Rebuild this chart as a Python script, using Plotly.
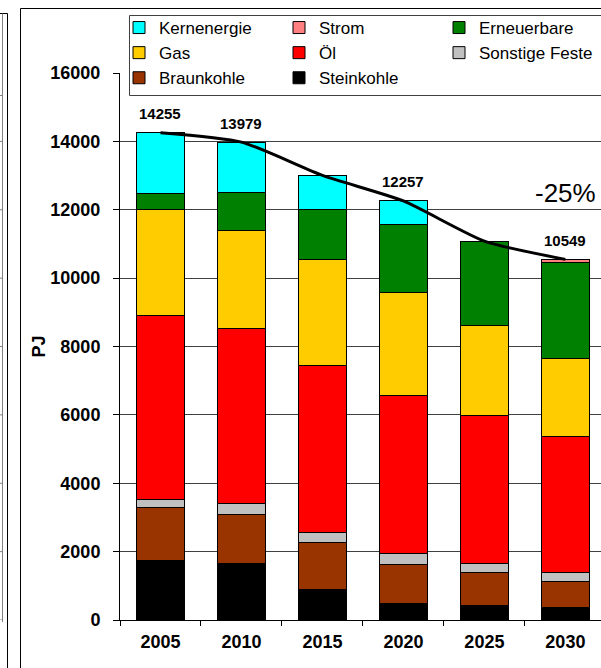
import plotly.graph_objects as go

# Primärenergieverbrauch nach Energieträgern (PJ)
years = ["2005", "2010", "2015", "2020", "2025", "2030"]

steinkohle = [1750, 1640, 905, 477, 418, 360]
braunkohle = [1530, 1450, 1355, 1152, 965, 780]
sonstige_feste = [255, 310, 300, 330, 263, 264]
oel = [5360, 5140, 4895, 4620, 4328, 3956]
gas = [3120, 2845, 3100, 2992, 2652, 2292]
erneuerbare = [470, 1110, 1465, 1988, 2456, 2796]
strom = [0, 0, 0, 0, 0, 101]
kernenergie = [1770, 1484, 985, 698, 0, 0]

labelled_years = ["2005", "2010", "2020", "2030"]
reduction_text = "-25%"
reduction_pos = ("2030", 12500)

FONT = "Arial, Liberation Sans, sans-serif"

# name, values, colour, legend column, row within column
series = [
    ("Steinkohle", steinkohle, "#000000", 2, 3),
    ("Braunkohle", braunkohle, "#993300", 1, 3),
    ("Sonstige Feste", sonstige_feste, "#C0C0C0", 3, 2),
    ("Öl", oel, "#FF0000", 2, 2),
    ("Gas", gas, "#FFCC00", 1, 2),
    ("Erneuerbare", erneuerbare, "#008000", 3, 1),
    ("Strom", strom, "#FF8080", 2, 1),
    ("Kernenergie", kernenergie, "#00FFFF", 1, 1),
]

totals = [sum(vals) for vals in zip(*(s[1] for s in series))]

legend_ids = {1: "legend", 2: "legend2", 3: "legend3"}

fig = go.Figure()
for name, vals, color, col, row in series:
    fig.add_trace(go.Bar(
        x=years, y=vals, name=name,
        legend=legend_ids[col], legendrank=row,
        marker=dict(color=color, line=dict(color="#000000", width=1)),
    ))

fig.add_trace(go.Scatter(
    x=years, y=totals, mode="lines", showlegend=False,
    line=dict(color="#000000", width=3, shape="spline", smoothing=0.6),
    hoverinfo="skip",
))

annotations = []
for i, (yr, tot) in enumerate(zip(years, totals)):
    if yr in labelled_years:
        annotations.append(dict(
            xref="x", yref="y", x=i, y=tot, text=f"<b>{tot}</b>", showarrow=False,
            yanchor="middle", yshift=19,
            font=dict(family=FONT, size=15, color="#000000"),
        ))
annotations.append(dict(
    xref="x", yref="y", x=years.index(reduction_pos[0]), y=reduction_pos[1],
    text=reduction_text, showarrow=False,
    font=dict(family=FONT, size=26, color="#000000"),
))

# page geometry helpers for the surrounding frame lines
W, H = 601, 668
ML, MR, MT, MB = 120, 0, 73, 48
PW, PH = W - ML - MR, H - MT - MB


def px(xp):
    return (xp - ML) / PW


def py(yp):
    return (H - MB - yp) / PH


frame = dict(color="#000000", width=1)
grey = dict(color="#808080", width=1)
shapes = [
    # outer chart frame
    dict(type="line", xref="paper", yref="paper", x0=px(20.5), x1=px(610), y0=py(8.5), y1=py(8.5), line=frame),
    dict(type="line", xref="paper", yref="paper", x0=px(20.5), x1=px(20.5), y0=py(8.5), y1=py(680), line=frame),
    # neighbouring panel edge
    dict(type="line", xref="paper", yref="paper", x0=px(-5), x1=px(7.5), y0=py(13.5), y1=py(13.5), line=frame),
    dict(type="line", xref="paper", yref="paper", x0=px(7.5), x1=px(7.5), y0=py(13.5), y1=py(680), line=frame),
    dict(type="line", xref="paper", yref="paper", x0=px(2.5), x1=px(2.5), y0=py(13.5), y1=py(622), line=grey),
    dict(type="line", xref="paper", yref="paper", x0=px(-5), x1=px(2.5), y0=py(95.5), y1=py(95.5), line=grey),
    # legend box
    dict(type="rect", xref="paper", yref="paper", x0=px(129.5), x1=px(615), y0=py(15.5), y1=py(95.5),
         fillcolor="#FFFFFF", line=dict(color="#404040", width=1), layer="above"),
]
for v in range(0, 16000, 2000):
    shapes.append(dict(type="line", xref="paper", yref="y", x0=px(-5), x1=px(2.5), y0=v, y1=v, line=grey))


def legend_column(left_px):
    return dict(
        orientation="v", traceorder="normal",
        x=px(left_px), y=py(10), xanchor="left", yanchor="top",
        bgcolor="rgba(0,0,0,0)", borderwidth=0,
        font=dict(family=FONT, size=17, color="#000000"),
    )


fig.update_layout(
    width=W, height=H,
    margin=dict(l=ML, r=MR, t=MT, b=MB, pad=0),
    barmode="stack", bargap=0.407,
    paper_bgcolor="#FFFFFF", plot_bgcolor="#FFFFFF",
    font=dict(family=FONT, color="#000000"),
    shapes=shapes,
    annotations=annotations,
    legend=legend_column(119),
    legend2=legend_column(279),
    legend3=legend_column(439),
    xaxis=dict(
        type="category", categoryorder="array", categoryarray=years,
        range=[-0.5, 5.44],
        showline=True, linecolor="#000000", linewidth=1,
        ticks="outside", tickson="boundaries", ticklen=5, tickcolor="#000000",
        ticklabelstandoff=5,
        tickfont=dict(family=FONT, size=18, color="#000000", weight="bold"),
        showgrid=False,
    ),
    yaxis=dict(
        range=[0, 16000], dtick=2000, tickformat="d",
        showline=True, linecolor="#000000", linewidth=1,
        ticks="outside", ticklen=6, tickcolor="#000000",
        ticklabelstandoff=9,
        showgrid=True, gridcolor="#404040", gridwidth=1,
        zeroline=False,
        tickfont=dict(family=FONT, size=18, color="#000000", weight="bold"),
        title=dict(text="<b>PJ</b>", standoff=0, font=dict(family=FONT, size=18, color="#000000")),
    ),
)

fig.write_html("out.html")
